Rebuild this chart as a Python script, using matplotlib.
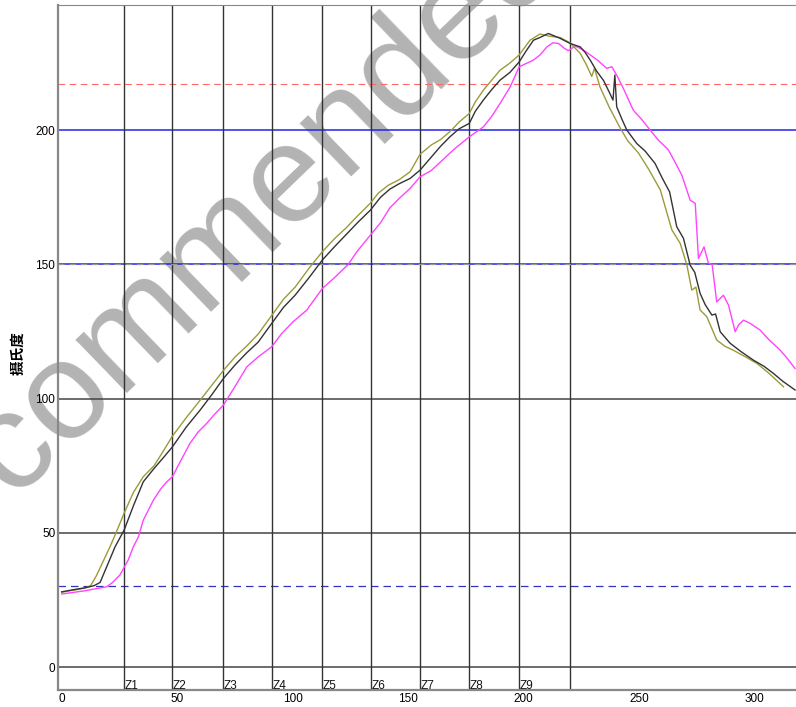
import matplotlib
matplotlib.use("Agg")
import matplotlib.pyplot as plt

plt.rcParams['font.family'] = ['Liberation Sans', 'DejaVu Sans']

# olive profile
olive_x = [0, 5, 10, 12.5, 15, 18, 21, 23.5, 27, 31, 35.3, 40, 44, 47.9, 54, 59.9, 65, 70, 75, 80,
           85, 90.9, 96, 101, 107, 112.8, 118, 123, 128, 133.5, 137, 141.4, 146, 150.8, 155.1,
           160, 164, 168.1, 172, 176.4, 179, 182.5, 186, 189.7, 194, 198, 202.7, 207, 211,
           215.7, 220, 224.4, 227, 229.4, 230.6, 233, 237, 241.7, 245, 249.6, 254, 259.1, 262,
           264.1, 267.7, 270.6, 272.7, 274.5, 276.3, 279.2, 283.5, 287, 290.7, 296, 300.9, 306,
           312.4]
olive_y = [27.9, 28.6, 29.4, 30.3, 34, 39.5, 45, 50, 57.3, 65, 70.9, 75, 80.5, 86, 93, 99.4, 105,
           110.5, 115.5, 119.5, 124, 131, 137, 141.5, 148.5, 154.7, 159.5, 163.5, 168, 172.7,
           176.5, 179.5, 181.5, 184.5, 191, 194.5, 196.5, 199.5, 203, 206.2, 210.5, 214.9, 218.5,
           222.3, 225, 228, 233.5, 235.8, 235, 234.5, 232.5, 228.6, 224.5, 220, 223, 216, 208.5,
           200.8, 196, 191.5, 185.5, 177.7, 169, 162.8, 157.8, 149.7, 140.4, 141.5, 133, 130.5,
           121.8, 119.5, 118, 115.5, 113.1, 109.5, 104.4]

# black profile
black_x = [0, 5, 10, 14, 16.6, 19.5, 23.1, 27, 31, 35.3, 40, 44, 47.9, 54, 59.9, 65, 70, 75, 80,
           85, 90.9, 96, 101, 107, 112.8, 118, 123, 128, 133.6, 138, 142, 146, 150.8, 155.1, 160,
           164, 168, 172, 176.4, 179, 182.5, 186, 189.7, 194, 198, 201, 204.2, 207, 210.6, 215.7,
           220, 224.4, 226.5, 228.8, 231.5, 234.5, 236.5, 238.6, 239.4, 240.2, 242.5, 244.6,
           248.9, 252.5, 256.8, 260, 263.1, 266.2, 269.1, 272, 274, 276.3, 278.5, 281.4, 283,
           285, 289.3, 294, 299.4, 304, 308, 312, 317.4]
black_y = [28, 28.8, 29.5, 30.3, 31.5, 37.4, 44.8, 51, 60, 69, 74, 78, 82, 89.5, 95.7, 101.5,
           107.5, 112.5, 117, 121, 128, 134, 138.5, 145, 151.6, 156.5, 161, 165.5, 170.2, 175,
           178, 180, 182, 185.1, 190, 194, 197.5, 200.5, 202.5, 207, 211.2, 215, 218.6, 221.5,
           225.4, 229.5, 233.5, 234.5, 236, 234.2, 232.3, 231, 229, 226, 222, 218.5, 215, 211.2,
           220.5, 208.7, 204, 200, 195, 192.2, 187.6, 182, 177, 164, 159.7, 149.7, 147, 139.2,
           135, 131.1, 131.5, 124.9, 120.6, 117.5, 114.3, 112, 109.4, 106.5, 103.2]

# magenta profile
magenta_x = [0, 5, 10, 15, 19.5, 22, 25.2, 28.8, 31, 33.2, 35.3, 39.7, 43, 45.5, 47.9, 51, 55.5,
             59, 62.8, 66, 70, 75, 80.1, 85, 90.9, 95, 100, 106.1, 112.8, 118, 124, 128, 133.6,
             138, 142, 146, 150.8, 155.1, 160, 165, 170, 176.4, 182.5, 186, 189.7, 194.1, 198,
             204.2, 207, 210, 212.5, 215, 217.5, 219.3, 222.2, 225.5, 228.8, 232, 235.9, 238.1,
             240.5, 243.1, 247.4, 251, 254.7, 258, 262.6, 265.5, 268.4, 272, 274.2, 275.6, 278,
             279.9, 281.5, 283.5, 286.4, 288.6, 291.5, 293, 295.1, 298, 302.3, 306, 310.9, 314,
             317.4]
magenta_y = [27.2, 27.8, 28.4, 29.2, 29.9, 31.5, 34.3, 39.9, 44.8, 48.5, 54.7, 62.2, 66.5, 69,
             70.9, 76, 83.3, 87.5, 90.8, 94, 97.6, 104.5, 111.8, 115.5, 119.3, 124, 128.5, 133,
             141, 145, 150, 155, 160.9, 165.5, 171, 174.5, 178.3, 182.6, 185, 189, 193, 197.5,
             201.2, 205, 209.9, 216.1, 223.6, 226.1, 228, 231, 232.5, 232.3, 230.5, 229.6, 231.3,
             230, 228, 226, 223, 223.6, 220, 215.5, 207.4, 204, 200, 196.5, 192.6, 188, 183.2,
             173.9, 172.7, 152.2, 156.5, 150.4, 150, 136, 138.5, 134.8, 124.9, 127.5, 129.2, 128,
             125.5, 122, 118.1, 115, 111.2]

zone_x = [27, 47.7, 69.8, 90.9, 112.7, 133.7, 155.1, 176.4, 198, 220]
zone_labels = ['Z1', 'Z2', 'Z3', 'Z4', 'Z5', 'Z6', 'Z7', 'Z8', 'Z9']

fig = plt.figure(figsize=(7.96, 7.07), dpi=100)
ax = fig.add_axes([0.0729, 0.024, 0.9291, 0.9689])

# horizontal reference lines
for v in [0, 50, 100]:
    ax.axhline(v, color='#444444', lw=1.1, zorder=1)
ax.axhline(200, color='#2222ee', lw=1.1, zorder=1)
ax.axhline(150, color='#2222ee', lw=1.1, zorder=1)
ax.axhline(150, color='#999999', lw=0.9, ls=(0, (5, 4)), zorder=1.1)
ax.axhline(217, color='#ff6666', lw=0.8, ls=(0, (6, 4)), zorder=1)
ax.axhline(30, color='#3333bb', lw=0.9, ls=(0, (6, 4)), zorder=1)

# zone lines
for zx in zone_x:
    ax.axvline(zx, color='#333333', lw=1.0, zorder=1)
for zx, lab in zip(zone_x, zone_labels):
    ax.text(zx + 0.3, -8.2, lab, fontsize=8.5, ha='left', va='baseline', color='#111111')

ax.plot(olive_x, olive_y, color='#9b9b3a', lw=1.0, zorder=3)
ax.plot(black_x, black_y, color='#333333', lw=1.0, zorder=4)
ax.plot(magenta_x, magenta_y, color='#ff44ff', lw=1.0, zorder=2)

ax.set_xlim(-1.6, 318.5)
ax.set_ylim(-8.57, 246.6)
ax.set_xticks([0, 50, 100, 150, 200, 250, 300])
ax.set_yticks([0, 50, 100, 150, 200])
ax.tick_params(length=0, labelsize=8.5, pad=2)

for s in ['left', 'bottom']:
    ax.spines[s].set_color('#888888')
    ax.spines[s].set_linewidth(1.6)
ax.spines['top'].set_color('#888888')
ax.spines['right'].set_visible(False)

fig.text(0.022, 0.5, '摄氏度', rotation=90, fontsize=10.5, fontweight='bold',
         family=['Noto Sans CJK SC', 'DejaVu Sans'], ha='center', va='center')

# watermark
ax.text(12 / 796, 1 - 498 / 707, 'commended', transform=fig.transFigure, fontsize=101,
        rotation=44, rotation_mode='anchor', ha='left', va='baseline',
        color='#b3b3b3', zorder=0.5, clip_on=False)

fig.savefig('out.png', dpi=100)
